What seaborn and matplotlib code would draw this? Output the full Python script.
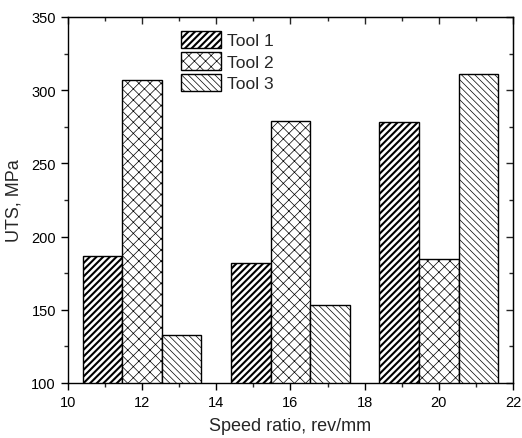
import matplotlib
matplotlib.use("Agg")
import matplotlib.pyplot as plt
import seaborn as sns
import pandas as pd
from matplotlib.patches import Patch
from matplotlib.ticker import MultipleLocator

speed_ratio = [12, 16, 20]
tools = ["Tool 1", "Tool 2", "Tool 3"]
tool1 = [187, 182, 278]
tool2 = [307, 279, 185]
tool3 = [133, 153, 311]

rows = []
for t, vals in zip(tools, [tool1, tool2, tool3]):
    for x, v in zip(speed_ratio, vals):
        rows.append({"speed": x, "uts": v, "tool": t})
df = pd.DataFrame(rows)

sns.set_style("ticks")
plt.rcParams["font.family"] = ["Liberation Sans", "DejaVu Sans"]
plt.rcParams["hatch.color"] = "black"

fig = plt.figure(figsize=(5.22, 4.39), dpi=100)
ax = fig.add_axes([0.1297, 0.1253, 0.983 - 0.1297, 0.959 - 0.1253])

sns.barplot(data=df, x="speed", y="uts", hue="tool", hue_order=tools,
            native_scale=True, width=0.8, dodge=True,
            palette=["white"] * 3, edgecolor="black", linewidth=1.0,
            errorbar=None, legend=False, ax=ax)

hatches = ["/////", "xxx", "\\" * 5]
hlw = [1.5, 0.5, 0.5]
for cont, h, lw in zip(ax.containers, hatches, hlw):
    for p in cont:
        p.set_hatch(h)
        if hasattr(p, "set_hatch_linewidth"):
            p.set_hatch_linewidth(lw)

handles = []
for h in hatches:
    handles.append(Patch(facecolor="white", edgecolor="black", hatch=h, linewidth=1.0))
leg = ax.legend(handles, tools, loc="upper left", bbox_to_anchor=(0.228, 0.995),
                frameon=False, fontsize=12.5, handlelength=2.3, handleheight=1.15,
                labelspacing=0.22, handletextpad=0.35, borderpad=0.2)
for p, lw in zip(leg.get_patches(), hlw):
    if hasattr(p, "set_hatch_linewidth"):
        p.set_hatch_linewidth(lw)

ax.set_xlim(10, 22)
ax.set_ylim(100, 350)
ax.xaxis.set_major_locator(MultipleLocator(2))
ax.xaxis.set_minor_locator(MultipleLocator(1))
ax.yaxis.set_major_locator(MultipleLocator(50))
ax.yaxis.set_minor_locator(MultipleLocator(25))
ax.tick_params(which="major", direction="out", length=5, width=1, labelsize=10.5, colors="black")
ax.tick_params(which="minor", direction="out", length=3, width=1)
for s in ax.spines.values():
    s.set_visible(True)
    s.set_color("black")
    s.set_linewidth(1.0)

secx = ax.secondary_xaxis("top")
secx.xaxis.set_major_locator(MultipleLocator(2))
secx.xaxis.set_minor_locator(MultipleLocator(1))
secx.tick_params(which="major", direction="in", length=5, width=1, labeltop=False)
secx.tick_params(which="minor", direction="in", length=3, width=1)
secy = ax.secondary_yaxis("right")
secy.yaxis.set_major_locator(MultipleLocator(50))
secy.yaxis.set_minor_locator(MultipleLocator(25))
secy.tick_params(which="major", direction="in", length=5, width=1, labelright=False)
secy.tick_params(which="minor", direction="in", length=3, width=1)

ax.set_xlabel("Speed ratio, rev/mm", fontsize=13, labelpad=6)
ax.set_ylabel("UTS, MPa", fontsize=13, labelpad=6)

fig.savefig("out.png", dpi=100)
